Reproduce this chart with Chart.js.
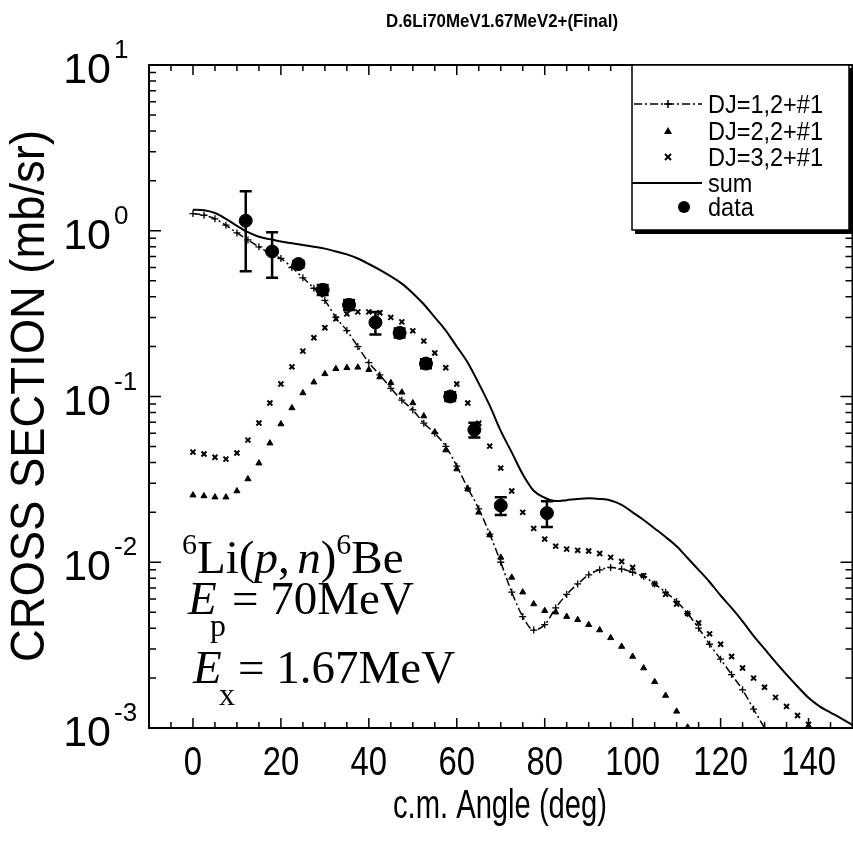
<!DOCTYPE html>
<html><head><meta charset="utf-8">
<script src="https://cdn.jsdelivr.net/npm/chart.js@4/dist/chart.umd.min.js"></script>
<style>html,body{margin:0;padding:0;overflow:hidden;background:#fff}canvas{display:block}</style>
</head><body>
<canvas id="c" width="860" height="846"></canvas>
<script>
// ---- data ----
const thAngle = [0,2.5,5,7.5,10,12.5,15,17.5,20,22.5,25,27.5,30,32.5,35,37.5,40,42.5,45,47.5,50,52.5,55,57.5,60,62.5,65,67.5,70,72.5,75,77.5,80,82.5,85,87.5,90,92.5,95,97.5,100,102.5,105,107.5,110,112.5,115,117.5,120,122.5,125,127.5,130,132.5,135,137.5,140,142.5,145,147.5,150];
const dj1 = [1.27,1.24,1.18,1.08,0.97,0.88,0.80,0.73,0.68,0.60,0.52,0.45,0.38,0.30,0.25,0.20,0.16,0.135,0.112,0.095,0.083,0.069,0.060,0.050,0.038,0.028,0.021,0.0148,0.0100,0.0066,0.0047,0.0039,0.0042,0.0053,0.0064,0.0074,0.0084,0.0090,0.0093,0.0091,0.0087,0.0082,0.0074,0.0066,0.0058,0.0049,0.0040,0.0032,0.0026,0.0021,0.0017,0.0013,0.00100,0.00078,null,null,null,null,null,null,null];
const dj2 = [0.0254,0.0251,0.0247,0.0247,0.0269,0.0318,0.0396,0.0523,0.0682,0.0853,0.105,0.122,0.137,0.147,0.149,0.150,0.145,0.131,0.121,0.106,0.0914,0.0762,0.061,0.0475,0.0365,0.0276,0.020,0.0146,0.0107,0.0081,0.0066,0.0056,0.0051,0.0050,0.0047,0.0045,0.0042,0.0039,0.0035,0.0031,0.0027,0.0023,0.0019,0.00157,0.00126,0.00101,null,null,null,null,null,null,null,null,null,null,null,null,null,null,null];
const dj3 = [0.0462,0.045,0.043,0.0419,0.0456,0.0546,0.0692,0.0914,0.119,0.151,0.188,0.226,0.26,0.294,0.315,0.324,0.324,0.32,0.30,0.282,0.249,0.216,0.183,0.149,0.119,0.0914,0.069,0.0502,0.037,0.0269,0.020,0.016,0.0138,0.0125,0.012,0.0118,0.0117,0.0113,0.0107,0.0101,0.0093,0.0083,0.0074,0.0064,0.0056,0.0049,0.0043,0.0037,0.0032,0.0027,0.0023,0.0020,0.00176,0.00153,0.00135,0.00119,0.00105,null,null,null,null];
const sumCurve = [1.34,1.33,1.28,1.18,1.07,0.98,0.92,0.89,0.86,0.84,0.82,0.80,0.78,0.75,0.72,0.68,0.63,0.58,0.53,0.48,0.42,0.36,0.30,0.25,0.20,0.16,0.12,0.088,0.062,0.046,0.034,0.027,0.0245,0.0234,0.0237,0.0241,0.0243,0.0241,0.0236,0.0222,0.0200,0.0180,0.0160,0.0142,0.0125,0.0106,0.0090,0.0076,0.0063,0.0053,0.0044,0.0036,0.0030,0.0025,0.0021,0.00178,0.00152,0.00135,0.00124,0.00114,0.00104];
const dataAngle = [12,18,24,29.5,35.5,41.5,47,53,58.5,64,70,80.5];
const dataVal = [1.15,0.75,0.63,0.44,0.357,0.28,0.242,0.158,0.100,0.063,0.022,0.0198];
const dataErr = [0.58,0.23,0.03,0.03,0.025,0.043,0.015,0.01,0.006,0.0065,0.0027,0.0035];
const xTickLabels = [0,20,40,60,80,100,120,140];
const yTickExps = [-3,-2,-1,0,1];
const legendLabels = ['DJ=1,2+#1','DJ=2,2+#1','DJ=3,2+#1','sum','data'];
const titleText = 'D.6Li70MeV1.67MeV2+(Final)';
const xTitle = 'c.m. Angle (deg)';
const yTitle = 'CROSS SECTION (mb/sr)';

function pts(xs, ys){ const o=[]; for(let i=0;i<xs.length;i++){ if(ys[i]!=null) o.push({x:xs[i],y:ys[i]}); } return o; }

function txt(ctx, s, x, y, font, align, hs){
  ctx.save(); ctx.font = font; ctx.textAlign = align||'left'; ctx.textBaseline='alphabetic';
  ctx.translate(x,y); ctx.scale(hs||1,1); ctx.fillText(s,0,0); ctx.restore();
}
function fitTxt(ctx, s, x, y, font, width){
  ctx.save(); ctx.font=font; const w=ctx.measureText(s).width; ctx.restore();
  txt(ctx, s, x, y, font, 'center', width/w);
}
function seq(ctx, parts, x, y){
  ctx.save(); ctx.textAlign='left'; ctx.textBaseline='alphabetic';
  for(const p of parts){ ctx.font=p.f; if(p.x!=null) x=p.x; ctx.fillText(p.t, x, y+(p.dy||0)); x += ctx.measureText(p.t).width; }
  ctx.restore();
}
const SANS='"Liberation Sans", Arial, sans-serif';
const SERIF='"Liberation Serif", "Times New Roman", serif';

const decor = {
  id:'decor',
  beforeDraw(chart){ const c=chart.ctx; c.save(); c.fillStyle='#fff'; c.fillRect(0,0,chart.width,chart.height); c.restore(); },
  beforeDatasetsDraw(chart){
    const c=chart.ctx, xs=chart.scales.x, ys=chart.scales.y;
    c.save(); c.strokeStyle='#000'; c.lineWidth=2.5;
    for(let i=0;i<dataAngle.length;i++){
      const px=xs.getPixelForValue(dataAngle[i]);
      const t=ys.getPixelForValue(dataVal[i]+dataErr[i]);
      const b=ys.getPixelForValue(dataVal[i]-dataErr[i]);
      c.beginPath(); c.moveTo(px,t); c.lineTo(px,b);
      c.moveTo(px-6,t); c.lineTo(px+6,t); c.moveTo(px-6,b); c.lineTo(px+6,b); c.stroke();
    }
    c.restore();
  },
  afterDraw(chart){
    const c=chart.ctx, a=chart.chartArea, xs=chart.scales.x, ys=chart.scales.y;
    c.save(); c.fillStyle='#000'; c.strokeStyle='#000';
    c.lineWidth=2; c.strokeRect(a.left, a.top, a.right-a.left, a.bottom-a.top);
    c.lineWidth=1.5; c.beginPath();
    for(let v=-10; v<=150; v+=5){
      const px=xs.getPixelForValue(v); const L=(v%20===0)?10:6;
      c.moveTo(px,a.bottom); c.lineTo(px,a.bottom-L);
      c.moveTo(px,a.top); c.lineTo(px,a.top+L);
    }
    for(let e=-3;e<=1;e++){
      for(let m=1;m<=9;m++){
        const v=m*Math.pow(10,e); if(v>10.0001) break;
        const py=ys.getPixelForValue(v); const L=(m===1)?12:7;
        c.moveTo(a.left,py); c.lineTo(a.left+L,py);
        c.moveTo(a.right,py); c.lineTo(a.right-L,py);
      }
    }
    c.stroke();
    for(const v of xTickLabels){ txt(c, String(v), xs.getPixelForValue(v), 775, '40px '+SANS,'center',0.82); }
    for(const e of yTickExps){
      const py=ys.getPixelForValue(Math.pow(10,e));
      txt(c,'10',111,py+18,'43px '+SANS,'right',1);
      txt(c,String(e),114,py-7,'26px '+SANS,'left',1);
    }
    fitTxt(c, xTitle, 500, 818, '41px '+SANS, 214);
    c.save(); c.translate(44,396); c.rotate(-Math.PI/2);
    fitTxt(c, yTitle, 0, 0, '48px '+SANS, 532);
    c.restore();
    fitTxt(c, titleText, 502, 27, 'bold 19px '+SANS, 232);
    const R='47px '+SERIF, I='italic 47px '+SERIF, S='30px '+SERIF, Sb='32px '+SERIF;
    seq(c,[{t:'6',f:S,dy:-19},{t:'Li(',f:R},{t:'p',f:I},{t:',',f:R},{t:' ',f:S},{t:'n',f:I},{t:')',f:R},{t:'6',f:S,dy:-19},{t:'Be',f:R}],182,573);
    seq(c,[{t:'E',f:I},{t:'p',f:Sb,dy:22,x:210},{t:'= 70MeV',f:R,x:232}],188,614);
    seq(c,[{t:'E',f:I},{t:'x',f:Sb,dy:22,x:219},{t:'= 1.67MeV',f:R,x:238}],193,683);
    // legend box
    const L0=632,T0=65,R0=849,B0=230;
    c.fillStyle='#fff'; c.fillRect(L0,T0,R0-L0,B0-T0);
    c.fillStyle='#000'; c.fillRect(L0+3,B0,R0-L0+2,4); c.fillRect(R0,T0+3,5,B0-T0+1);
    c.lineWidth=1.5; c.strokeRect(L0,T0,R0-L0,B0-T0);
    const rows=[104,131,157,183,207];
    for(let i=0;i<legendLabels.length;i++){ txt(c, legendLabels[i], 708, rows[i]+9, '25px '+SANS,'left',0.94); }
    c.lineWidth=1.5; c.setLineDash([8,3,2,3]); c.beginPath(); c.moveTo(634,rows[0]); c.lineTo(702,rows[0]); c.stroke(); c.setLineDash([]);
    c.beginPath(); c.moveTo(664,rows[0]); c.lineTo(672,rows[0]); c.moveTo(668,rows[0]-4); c.lineTo(668,rows[0]+4); c.stroke();
    c.beginPath(); c.moveTo(668,rows[1]-4); c.lineTo(672,rows[1]+3); c.lineTo(664,rows[1]+3); c.closePath(); c.fill();
    c.lineWidth=2; c.beginPath(); c.moveTo(665,rows[2]-3); c.lineTo(671,rows[2]+3); c.moveTo(671,rows[2]-3); c.lineTo(665,rows[2]+3); c.stroke();
    c.beginPath(); c.moveTo(632,rows[3]); c.lineTo(702,rows[3]); c.stroke();
    c.beginPath(); c.arc(684,rows[4],6,0,Math.PI*2); c.fill();
    c.restore();
  }
};

new Chart(document.getElementById('c'), {
  type:'scatter',
  data:{ datasets:[
    {label:'sum', type:'line', data:pts(thAngle,sumCurve), borderColor:'#000', borderWidth:2, pointRadius:0, cubicInterpolationMode:'monotone', fill:false},
    {label:'DJ=1,2+#1', type:'line', data:pts(thAngle,dj1), borderColor:'#000', borderWidth:1.5, borderDash:[8,3,2,3], pointStyle:'cross', pointRadius:3.5, pointBorderWidth:1.3, pointBorderColor:'#000', pointBackgroundColor:'#000', cubicInterpolationMode:'monotone', fill:false},
    {label:'DJ=2,2+#1', data:pts(thAngle,dj2), showLine:false, pointStyle:'triangle', pointRadius:3.5, borderColor:'#000', backgroundColor:'#000', borderWidth:1},
    {label:'DJ=3,2+#1', data:pts(thAngle,dj3), showLine:false, pointStyle:'crossRot', pointRadius:3.5, borderColor:'#000', backgroundColor:'#000', borderWidth:2},
    {label:'data', data:pts(dataAngle,dataVal), showLine:false, pointStyle:'circle', pointRadius:6.5, borderColor:'#000', backgroundColor:'#000', borderWidth:1}
  ]},
  options:{
    responsive:false, animation:false, devicePixelRatio:1,
    layout:{padding:{left:0,top:65,right:3,bottom:0}},
    plugins:{legend:{display:false}, title:{display:false}, tooltip:{enabled:false}},
    scales:{
      x:{type:'linear', min:-10, max:150, grid:{display:false}, border:{display:false}, ticks:{display:false},
         afterFit(s){ s.height=118; }},
      y:{type:'logarithmic', min:0.001, max:10, grid:{display:false}, border:{display:false}, ticks:{display:false},
         afterFit(s){ s.width=149; }}
    }
  },
  plugins:[decor]
});
</script></body></html>
